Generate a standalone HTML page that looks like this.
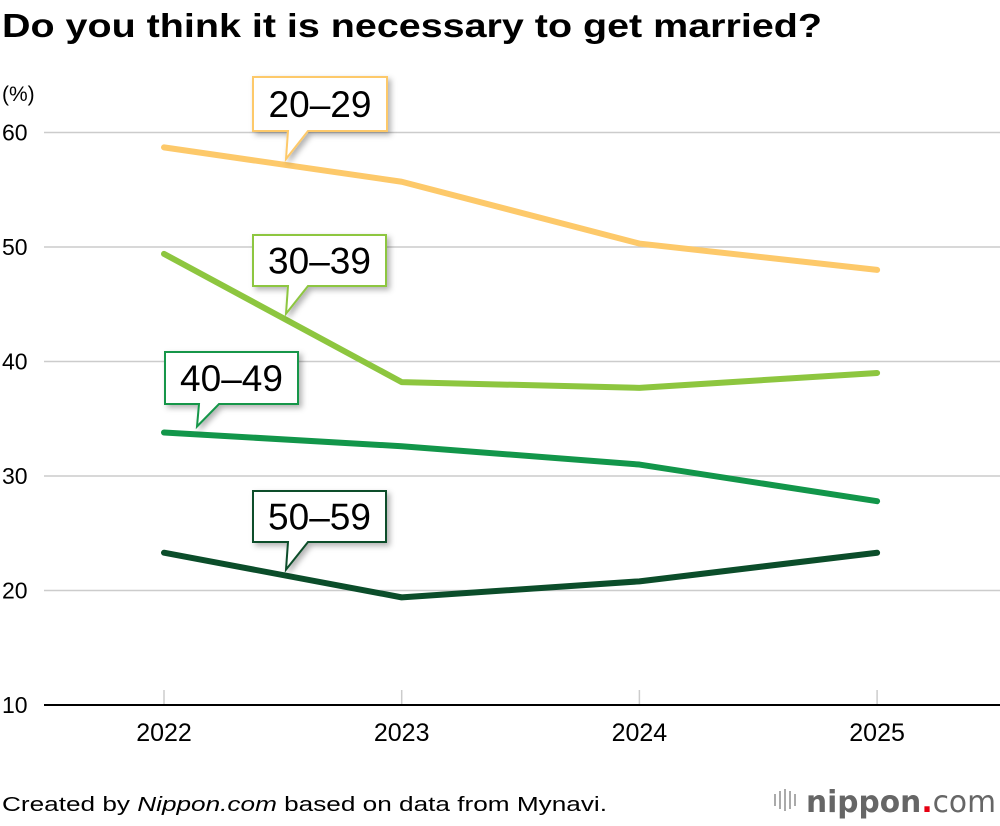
<!DOCTYPE html>
<html><head><meta charset="utf-8"><style>
body{margin:0;background:#fff;font-family:"Liberation Sans",Arial,sans-serif;}
#wrap{position:relative;width:1000px;height:826px;overflow:hidden;}
</style></head><body>
<div id="wrap">
<svg id="chart" width="1000" height="826" xmlns="http://www.w3.org/2000/svg">
<defs><filter id="sh" x="-20%" y="-20%" width="150%" height="160%"><feDropShadow dx="3" dy="3" stdDeviation="3" flood-color="#000" flood-opacity="0.3"/></filter></defs>
<text x="2" y="37" font-size="33" font-weight="bold" fill="#000" textLength="820" lengthAdjust="spacingAndGlyphs">Do you think it is necessary to get married?</text>
<text x="2" y="101" font-size="21" fill="#000">(%)</text>
<g id="grid"></g><g id="lines"></g><g id="callouts"></g>
<text x="2" y="811" font-size="20" fill="#000" textLength="605" lengthAdjust="spacingAndGlyphs">Created by <tspan font-style="italic">Nippon.com</tspan> based on data from Mynavi.</text>
<g>
<g fill="#aaa"><rect x="774" y="794" width="2" height="12"/><rect x="779" y="791" width="2" height="18"/><rect x="784" y="789" width="2" height="22"/><rect x="789" y="791" width="2" height="18"/><rect x="794" y="794" width="2" height="12"/></g>
<text x="806" y="812" font-size="30" fill="#666" font-family="DejaVu Sans, sans-serif" textLength="190" lengthAdjust="spacingAndGlyphs"><tspan font-weight="bold">nippon</tspan><tspan fill="#e60012" font-weight="bold">.</tspan><tspan>com</tspan></text>
</g>
</svg>
</div>
<script>
const years=["2022","2023","2024","2025"];
const yTicks=[10,20,30,40,50,60];
const seriesNames=["20–29","30–39","40–49","50–59"];
const s2029=[58.7,55.7,50.3,48.0];
const s3039=[49.4,38.2,37.7,39.0];
const s4049=[33.8,32.6,31.0,27.8];
const s5059=[23.3,19.4,20.8,23.3];
const allSeries=[s2029,s3039,s4049,s5059];
const colors=["#fdc96a","#8dc63f","#12964a","#0b4d2a"];
const NS="http://www.w3.org/2000/svg";
function xS(i){return 164+i*237.7;}
function yS(v){return 705-(v-10)*11.45;}
function mk(t,a,p){const e=document.createElementNS(NS,t);for(const k in a)e.setAttribute(k,a[k]);p.appendChild(e);return e;}
const grid=document.getElementById('grid');
yTicks.forEach(v=>{
  const l=mk('line',{x1:44,x2:1000,y1:yS(v),y2:yS(v),stroke:v===10?'#000':'#ccc','stroke-width':v===10?2:1.5},grid);
  
  
  const t=mk('text',{x:2,y:yS(v)+8,'font-size':23,fill:'#000'},grid);t.textContent=v;
  
  
});
years.forEach((y,i)=>{
  const l=mk('line',{x1:xS(i),x2:xS(i),y1:690,y2:704,stroke:'#ccc','stroke-width':1.5},grid);
  
  
  const t=mk('text',{x:xS(i),y:741,'font-size':25,fill:'#000','text-anchor':'middle'},grid);t.textContent=y;
  
  
});
const lines=document.getElementById('lines');
allSeries.forEach((s,k)=>{
  const p=mk('polyline',{points:s.map((v,i)=>xS(i)+','+yS(v)).join(' '),fill:'none',stroke:colors[k],'stroke-width':6,'stroke-linecap':'round','stroke-linejoin':'round'},lines);
  
  
});
const boxes=[[253,77,134,54],[253,235,133,51],[165,352,133,52],[253,491,133,51]];
const tails=[[286,0.5],[286,0.5],[197,0],[286,0.5]];
const co=document.getElementById('callouts');
boxes.forEach((b,k)=>{
  const [x,y,w,h]=b;const tx=tails[k][0];
  const s=allSeries[k];const i=tails[k][1];
  const ty=i===0?yS(s[0]):yS(s[0])+(yS(s[1])-yS(s[0]))*((tx-xS(0))/(xS(1)-xS(0)));
  const d=`M${x},${y} H${x+w} V${y+h} H${tx+22} L${tx},${ty-6} L${tx+2},${y+h} H${x} Z`;
  const g=mk('g',{},co);
  
  
  mk('path',{d:d,fill:'#fff',stroke:colors[k],'stroke-width':2,filter:'url(#sh)'},g);
  const t=mk('text',{x:x+w/2,y:y+h/2+13,'font-size':37,fill:'#000','text-anchor':'middle'},g);t.textContent=seriesNames[k];
});
</script>
</body></html>
